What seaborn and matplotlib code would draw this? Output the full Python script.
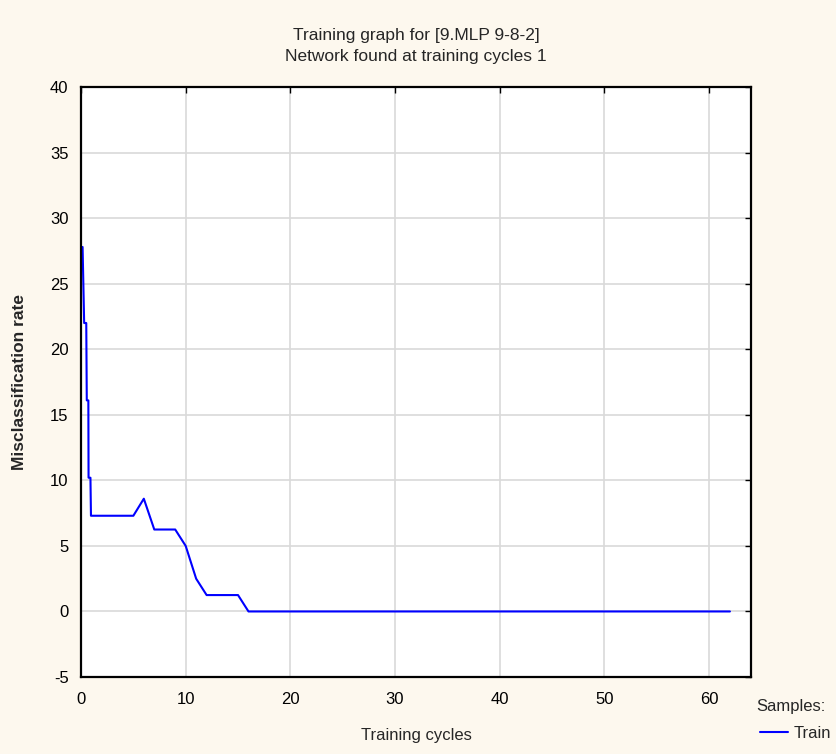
import matplotlib
matplotlib.use("Agg")
import matplotlib.pyplot as plt
import seaborn as sns
import pandas as pd

# values
cycles = [0.15, 0.3, 0.5, 0.55, 0.7, 0.72, 0.9, 0.95, 1, 5, 6, 7, 9, 10, 11, 12, 15, 16, 62]
misclass = [27.8, 22.0, 22.0, 16.1, 16.1, 10.2, 10.2, 7.3, 7.3, 7.3, 8.6, 6.25, 6.25, 5.0, 2.5, 1.25, 1.25, 0.0, 0.0]
x_ticks = [0, 10, 20, 30, 40, 50, 60]
y_ticks = [-5, 0, 5, 10, 15, 20, 25, 30, 35, 40]

df = pd.DataFrame({"Training cycles": cycles, "Misclassification rate": misclass, "Samples": "Train"})

sns.set_style("white")
plt.rcParams["font.family"] = ["Liberation Sans", "DejaVu Sans"]
plt.rcParams["axes.unicode_minus"] = False

bg = "#fdf8ee"
fig = plt.figure(figsize=(8.37, 7.54), dpi=100, facecolor=bg)
ax = fig.add_axes([0.0968, 0.1021, 0.8003, 0.7825])
ax.set_facecolor("white")

sns.lineplot(data=df, x="Training cycles", y="Misclassification rate", hue="Samples",
             palette=["#0000ff"], sort=False, estimator=None, lw=1.5, ax=ax, legend=False)

ax.set_xlim(0, 64)
ax.set_ylim(-5, 40)
ax.set_xticks(x_ticks)
ax.set_yticks(y_ticks)
ax.grid(True, color="#d9d9d9", lw=1.2)
ax.set_axisbelow(True)
ax.tick_params(direction="in", length=4, width=1, top=True, right=True,
               labelsize=12, pad=9, colors="black")
ax.tick_params(axis="x", pad=11)
for s in ax.spines.values():
    s.set_color("black")
    s.set_linewidth(1.6)

ax.set_xlabel("Training cycles", fontsize=12, labelpad=15)
ax.set_ylabel("Misclassification rate", fontsize=12.5, fontweight="bold")
ax.yaxis.set_label_coords(-0.08, 0.5)
ax.set_title("Training graph for [9.MLP 9-8-2]\nNetwork found at training cycles 1",
             fontsize=12.5, pad=19, linespacing=1.45)

fig.text(756 / 837, 1 - 706 / 754, "Samples:", fontsize=12, va="center", ha="left")
handle = plt.Line2D([], [], color="#0000ff", lw=1.5)
fig.legend([handle], ["Train"], loc="center left",
           bbox_to_anchor=(760 / 837, 1 - 733 / 754), frameon=False, fontsize=12,
           handlelength=1.7, handletextpad=0.3, borderpad=0, borderaxespad=0)

fig.savefig("out.png", dpi=100, facecolor=bg)
